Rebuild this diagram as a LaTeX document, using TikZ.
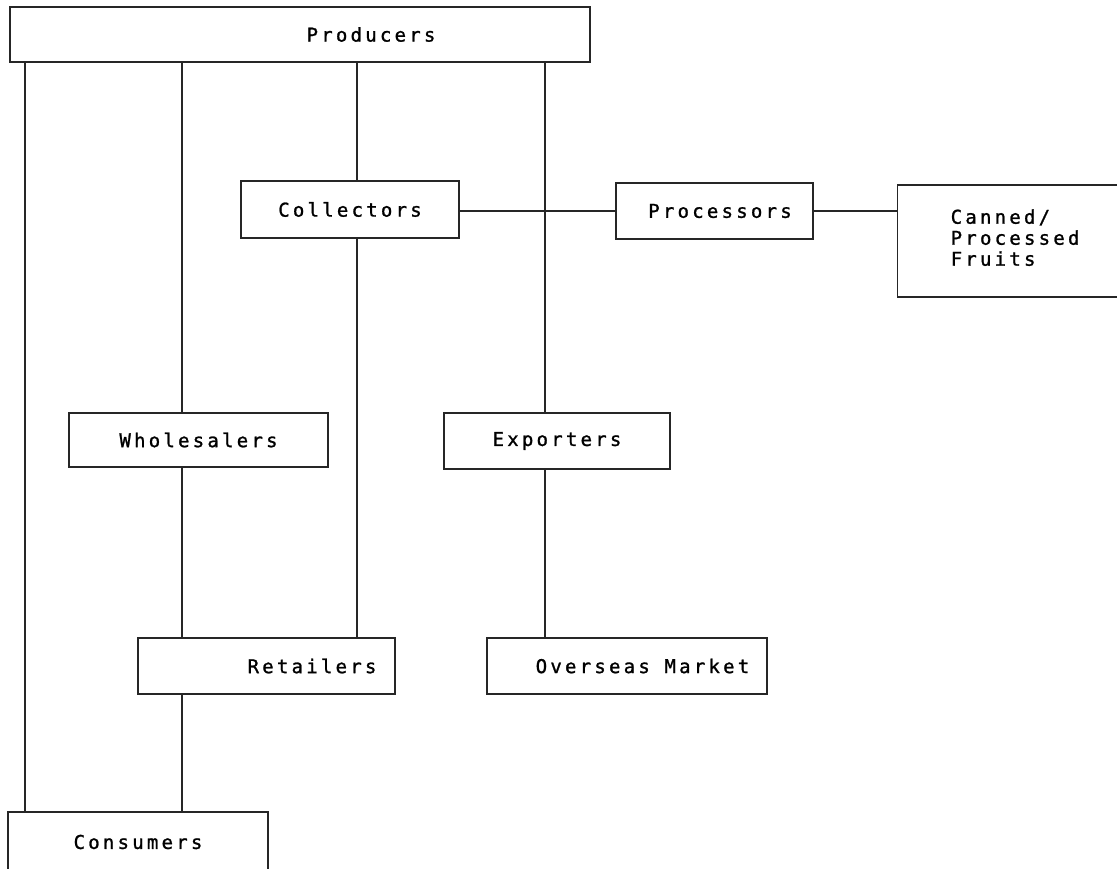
\documentclass[tikz,border=0pt]{standalone}
\usepackage{fontspec}
\newfontfamily\dotfont[LetterSpace=17,FakeBold=1.2]{DejaVu Sans Mono}

\begin{document}
\begin{tikzpicture}[x=1pt,y=-1pt]
\tikzstyle{every node}+=[inner sep=0pt]
\tikzstyle{box}=[draw=black!85, line width=1.4pt, font=\dotfont\fontsize{19}{21}\selectfont]
\tikzstyle{link}=[black!85, line width=1.1pt]
\useasboundingbox (0,0) rectangle (1117,869);
\clip (0,0) rectangle (1117,869);
\node [box, minimum width=580, minimum height=55] (prod) at (300,34.5) {\hspace*{142pt}Producers};
\node [box, minimum width=218, minimum height=57] (coll) at (350,209.5) {Collectors};
\node [box, minimum width=197, minimum height=56] (proc) at (714.5,211) {\hspace*{11pt}Processors};
\node [box, anchor=west, minimum height=112, inner xsep=53pt, text width=200pt, align=left] (fruit) at (897,241) {Canned/\\Processed\\Fruits\\[-14pt]\mbox{}};
\node [box, minimum width=259, minimum height=54] (wsl) at (198.5,440) {Wholesalers};
\node [box, minimum width=226, minimum height=56] (exp) at (557,441) {Exporters};
\node [box, minimum width=257, minimum height=56] (ret) at (266.5,666) {\hspace*{91pt}Retailers};
\node [box, minimum width=280, minimum height=56] (ovs) at (627,666) {\hspace*{31pt}Overseas Market};
\node [box, minimum width=260, minimum height=60] (cons) at (138,842) {Consumers};
\foreach \x/\dst in {25/cons, 182/wsl, 357/coll, 545/exp}
  \draw [link] (prod.south -| \x,0) -- (\dst.north -| \x,0);
\draw [link] (coll.east |- proc.west) -- (proc.west);
\draw [link] (proc.east) -- (proc.east -| fruit.west);
\foreach \x/\src/\dst in {357/coll/ret, 182/wsl/ret, 545/exp/ovs, 182/ret/cons}
  \draw [link] (\src.south -| \x,0) -- (\dst.north -| \x,0);
\end{tikzpicture}
\end{document}
